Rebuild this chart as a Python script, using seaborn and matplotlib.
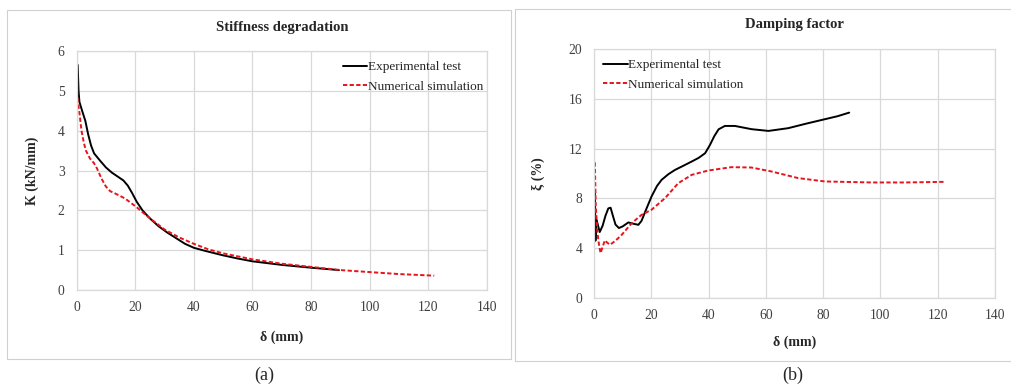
import matplotlib
matplotlib.use("Agg")
import matplotlib.pyplot as plt
from matplotlib.patches import Rectangle
import seaborn as sns
import pandas as pd

# Stiffness degradation K (kN/mm) versus displacement delta (mm)
k_exp_x = [0.4, 0.7, 1.0, 2.0, 3.0, 4.0, 5.0, 6.0, 8.0, 10.0, 12.0, 14.0, 16.0, 17.5, 19.0, 20.5,
           22.5, 25.0, 28.0, 31.0, 34.0, 37.0, 40.0, 44.0, 50.0, 55.0, 60.0, 70.0, 80.0, 89.5]
k_exp_y = [5.65, 5.0, 4.72, 4.48, 4.25, 3.9, 3.62, 3.43, 3.25, 3.08, 2.95, 2.85, 2.75, 2.62, 2.43, 2.22,
           2.0, 1.8, 1.6, 1.44, 1.3, 1.16, 1.06, 0.98, 0.87, 0.79, 0.72, 0.63, 0.56, 0.5]
k_num_x = [0.3, 1.0, 1.7, 2.5, 3.2, 4.6, 6.0, 7.0, 8.5, 10.0, 11.5, 13.0, 16.5, 20.5, 24.0,
           30.0, 35.0, 40.0, 45.0, 50.0, 60.0, 70.0, 80.0, 90.0, 100.0, 110.0, 122.0]
k_num_y = [4.82, 4.45, 4.0, 3.7, 3.5, 3.3, 3.18, 3.05, 2.8, 2.6, 2.48, 2.43, 2.3, 2.08, 1.86,
           1.52, 1.32, 1.16, 1.02, 0.92, 0.77, 0.66, 0.58, 0.5, 0.45, 0.4, 0.36]

# Equivalent damping factor xi (%) versus displacement delta (mm)
d_exp_x = [0.3, 0.5, 0.8, 1.2, 2.0, 3.0, 4.0, 5.0, 5.8, 6.6, 7.5, 8.7, 10.0, 12.0, 14.0, 15.5,
           16.6, 18.0, 20.1, 22.0, 23.6, 26.0, 28.3, 31.0, 34.1, 36.5, 38.8, 40.5, 42.0, 43.5,
           45.7, 49.2, 55.0, 60.9, 67.8, 74.0, 79.5, 85.0, 89.1]
d_exp_y = [8.7, 4.6, 6.3, 6.0, 5.3, 5.8, 6.6, 7.2, 7.25, 6.6, 5.9, 5.62, 5.75, 6.07, 5.95, 5.88,
           6.2, 7.0, 8.16, 9.0, 9.49, 9.95, 10.29, 10.6, 10.96, 11.25, 11.63, 12.3, 13.0, 13.55,
           13.82, 13.82, 13.56, 13.42, 13.64, 14.0, 14.3, 14.6, 14.89]
d_num_x = [0.3, 0.6, 1.2, 1.8, 2.3, 3.0, 3.8, 4.6, 5.6, 7.5, 9.7, 13.2, 16.6, 20.1, 24.8,
           29.4, 34.1, 39.9, 48.0, 55.0, 62.0, 71.3, 80.6, 96.9, 108.6, 122.5]
d_num_y = [10.9, 7.5, 5.2, 4.2, 3.61, 4.1, 4.63, 4.45, 4.28, 4.6, 5.08, 6.02, 6.68, 7.09, 8.02,
           9.22, 9.89, 10.24, 10.51, 10.48, 10.16, 9.63, 9.36, 9.28, 9.28, 9.33]

x_ticks = [0, 20, 40, 60, 80, 100, 120, 140]
k_ticks = [0, 1, 2, 3, 4, 5, 6]
d_ticks = [0, 4, 8, 12, 16, 20]
series_names = ["Experimental test", "Numerical simulation"]

sns.set_style("white")
plt.rcParams["font.family"] = ["Liberation Serif", "DejaVu Serif"]

grid_color = "#d9d9d9"
tick_color = "#404040"
exp_color = "black"
num_color = "#e8141b"

fig = plt.figure(figsize=(10.11, 3.9), dpi=100)

# panel frames
fig.patches.append(Rectangle((7 / 1011, 1 - 359 / 390), (511 - 7) / 1011, (359 - 9.5) / 390,
                             transform=fig.transFigure, fill=False, edgecolor="#d0d0d0", lw=0.8))
fig.patches.append(Rectangle((515 / 1011, 1 - 361 / 390), (1015 - 515) / 1011, (361 - 8.5) / 390,
                             transform=fig.transFigure, fill=False, edgecolor="#d0d0d0", lw=0.8))


def make_df(x, y, name):
    return pd.DataFrame({"delta": x, "value": y, "series": name})


def style_axes(ax, yticks, ylim):
    ax.set_xlim(0, 140)
    ax.set_ylim(*ylim)
    ax.set_xticks(x_ticks)
    ax.set_yticks(yticks)
    ax.grid(True, color=grid_color, lw=0.9)
    ax.set_axisbelow(True)
    for s in ax.spines.values():
        s.set_color(grid_color)
        s.set_linewidth(0.9)
    ax.tick_params(axis="both", length=0, labelsize=9.8, colors=tick_color, pad=8)
    ax.tick_params(axis="y", pad=8.5)


def draw(ax, ex_x, ex_y, nu_x, nu_y):
    sns.lineplot(data=make_df(ex_x, ex_y, series_names[0]), x="delta", y="value", ax=ax,
                 color=exp_color, lw=1.4, sort=False, estimator=None, label=series_names[0])
    sns.lineplot(data=make_df(nu_x, nu_y, series_names[1]), x="delta", y="value", ax=ax,
                 color=num_color, lw=1.4, sort=False, estimator=None, label=series_names[1],
                 linestyle=(0, (2.2, 1.2)))


leg_kw = dict(frameon=False, fontsize=9.5, handlelength=1.85, handletextpad=0.05,
              labelspacing=0.55, borderaxespad=0)

# (a) stiffness degradation
ax1 = fig.add_axes([76.5 / 1011, 1 - 290 / 390, (487 - 76.5) / 1011, (290 - 51) / 390])
draw(ax1, k_exp_x, k_exp_y, k_num_x, k_num_y)
style_axes(ax1, k_ticks, (0, 6))
ax1.set_xlabel("δ (mm)", fontsize=10, fontweight="bold", labelpad=11.5)
ax1.set_ylabel("K (kN/mm)", fontsize=10, fontweight="bold", labelpad=13.5)
ax1.set_title("Stiffness degradation", fontsize=10.5, fontweight="bold", pad=14.5)
ax1.legend(loc="upper left", bbox_to_anchor=(0.636, 0.98), **leg_kw)

# (b) damping factor
ax2 = fig.add_axes([594 / 1011, 1 - 298 / 390, (995 - 594) / 1011, (298 - 49) / 390])
draw(ax2, d_exp_x, d_exp_y, d_num_x, d_num_y)
style_axes(ax2, d_ticks, (0, 20))
ax2.set_xlabel("δ (mm)", fontsize=10, fontweight="bold", labelpad=9.5)
ax2.set_ylabel("ξ (%)", fontsize=10, fontweight="bold", labelpad=17)
ax2.set_title("Damping factor", fontsize=10.5, fontweight="bold", pad=15)
ax2.legend(loc="upper left", bbox_to_anchor=(0.01, 0.98), **leg_kw)

fig.text(264 / 1011, 1 - 375 / 390, "(a)", ha="center", va="center", fontsize=13)
fig.text(793 / 1011, 1 - 375 / 390, "(b)", ha="center", va="center", fontsize=13)

fig.savefig("out.png", dpi=100)
